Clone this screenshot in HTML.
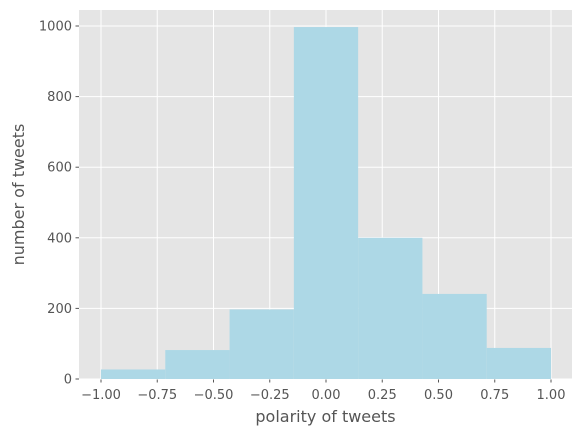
<!DOCTYPE html>
<html><head><meta charset="utf-8">
<style>
body{margin:0;background:#fff;}
svg{display:block;font-family:"DejaVu Sans","Liberation Sans",sans-serif;}
</style></head>
<body>
<svg id="chart" width="584" height="436" viewBox="0 0 584 436"></svg>
<script>
const binEdges = [-1, -0.7142857, -0.4285714, -0.1428571, 0.1428571, 0.4285714, 0.7142857, 1];
const counts = [27, 82, 197, 997, 400, 241, 88];
const xTicks = [-1, -0.75, -0.5, -0.25, 0, 0.25, 0.5, 0.75, 1];
const xTickLabels = ["\u22121.00","\u22120.75","\u22120.50","\u22120.25","0.00","0.25","0.50","0.75","1.00"];
const yTicks = [0, 200, 400, 600, 800, 1000];
const yTickLabels = ["0","200","400","600","800","1000"];

const NS="http://www.w3.org/2000/svg";
const svg=document.getElementById('chart');
const L=79,R=572,T=10,B=379;
const x=v=>101+(v+1)/2*(551-101);
const y=v=>379-v*(379-26)/1000;
function mk(tag,attrs,parent){const e=document.createElementNS(NS,tag);for(const k in attrs)e.setAttribute(k,attrs[k]);(parent||svg).appendChild(e);return e;}

const bg=mk('rect',{x:L,y:T,width:R-L,height:B-T,fill:'#e5e5e5'});



xTicks.forEach((t,i)=>{
  const g=mk('line',{x1:x(t),x2:x(t),y1:T,y2:B,stroke:'#fff','stroke-width':1});
  
  
  const tk=mk('line',{x1:x(t),x2:x(t),y1:B,y2:B+3.5,stroke:'#555','stroke-width':1});
  
  
  const tx=mk('text',{x:x(t),y:399,'font-size':13,fill:'#555','text-anchor':'middle'});
  tx.textContent=xTickLabels[i];
  
  
});
yTicks.forEach((t,i)=>{
  const g=mk('line',{x1:L,x2:R,y1:y(t),y2:y(t),stroke:'#fff','stroke-width':1});
  
  
  const tk=mk('line',{x1:L-3.5,x2:L,y1:y(t),y2:y(t),stroke:'#555','stroke-width':1});
  
  
  const tx=mk('text',{x:L-7,y:y(t)+4.5,'font-size':13,fill:'#555','text-anchor':'end'});
  tx.textContent=yTickLabels[i];
  
  
});
counts.forEach((c,i)=>{
  const r=mk('rect',{x:x(binEdges[i]),y:y(c),width:x(binEdges[i+1])-x(binEdges[i]),height:y(0)-y(c),fill:'#add8e6'});
  
  
});
const xl=mk('text',{x:(L+R)/2,y:422,'font-size':16,fill:'#555','text-anchor':'middle'});
xl.textContent='polarity of tweets';


const yl=mk('text',{x:0,y:0,'font-size':16,fill:'#555','text-anchor':'middle',transform:'translate(24,'+((T+B)/2)+') rotate(-90)'});
yl.textContent='number of tweets';


</script>
</body></html>
